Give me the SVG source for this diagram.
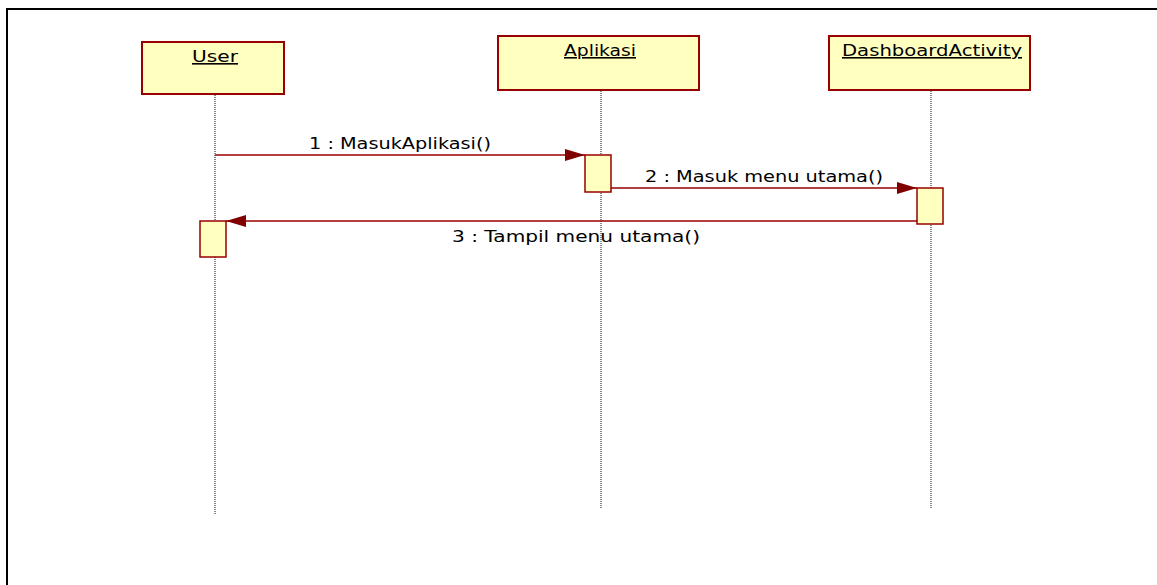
<svg xmlns="http://www.w3.org/2000/svg" width="1157" height="585" viewBox="0 0 1157 585">
<style>
.obj{fill:#ffffc0;stroke:#990000;stroke-width:2}
.act{fill:#ffffc0;stroke:#990000;stroke-width:1.5}
.life{stroke:#111;stroke-width:1;stroke-dasharray:1,1;fill:none}
.msg{stroke:#990000;stroke-width:1.5;fill:none}
.t{font-family:"DejaVu Sans",Verdana,sans-serif;font-size:16px;fill:#000}
.h{text-decoration:underline}
</style>
<defs>
<marker id="arr" markerUnits="userSpaceOnUse" markerWidth="22" markerHeight="14" refX="20" refY="6" orient="auto">
<path d="M0,0 L20,6 L0,12 Z" fill="#800000"/>
</marker>
</defs>
<rect width="1157" height="585" fill="#fff"/>
<path d="M7,590 V9 H1160" fill="none" stroke="#000" stroke-width="2"/>
<g id="lifelines">
<line class="life" x1="215" y1="95" x2="215" y2="515"/>
<line class="life" x1="601" y1="91" x2="601" y2="509"/>
<line class="life" x1="931" y1="91" x2="931" y2="509"/>
</g>
<g id="node-user">
<rect class="obj" x="142" y="42" width="142" height="52"/>
<text class="t h" x="215" y="62" text-anchor="middle" textLength="46" lengthAdjust="spacingAndGlyphs">User</text>
</g>
<g id="node-aplikasi">
<rect class="obj" x="498" y="36" width="201" height="54"/>
<text class="t h" x="600" y="56" text-anchor="middle" textLength="72" lengthAdjust="spacingAndGlyphs">Aplikasi</text>
</g>
<g id="node-dashboard">
<rect class="obj" x="829" y="36" width="201" height="54"/>
<text class="t h" x="932" y="56" text-anchor="middle" textLength="180" lengthAdjust="spacingAndGlyphs">DashboardActivity</text>
</g>
<g id="connectors">
<line class="msg" x1="215" y1="155" x2="585" y2="155" marker-end="url(#arr)"/>
<line class="msg" x1="611" y1="188" x2="917" y2="188" marker-end="url(#arr)"/>
<line class="msg" x1="917" y1="221" x2="226" y2="221" marker-end="url(#arr)"/>
<text class="t" x="309" y="149" textLength="182" lengthAdjust="spacingAndGlyphs">1 : MasukAplikasi()</text>
<text class="t" x="645" y="182" textLength="238" lengthAdjust="spacingAndGlyphs">2 : Masuk menu utama()</text>
<text class="t" x="452" y="242" textLength="248" lengthAdjust="spacingAndGlyphs">3 : Tampil menu utama()</text>
</g>
<g id="activations">
<rect class="act" x="585" y="155" width="26" height="37"/>
<rect class="act" x="917" y="188" width="26" height="36"/>
<rect class="act" x="200" y="221" width="26" height="36"/>
</g>
</svg>
